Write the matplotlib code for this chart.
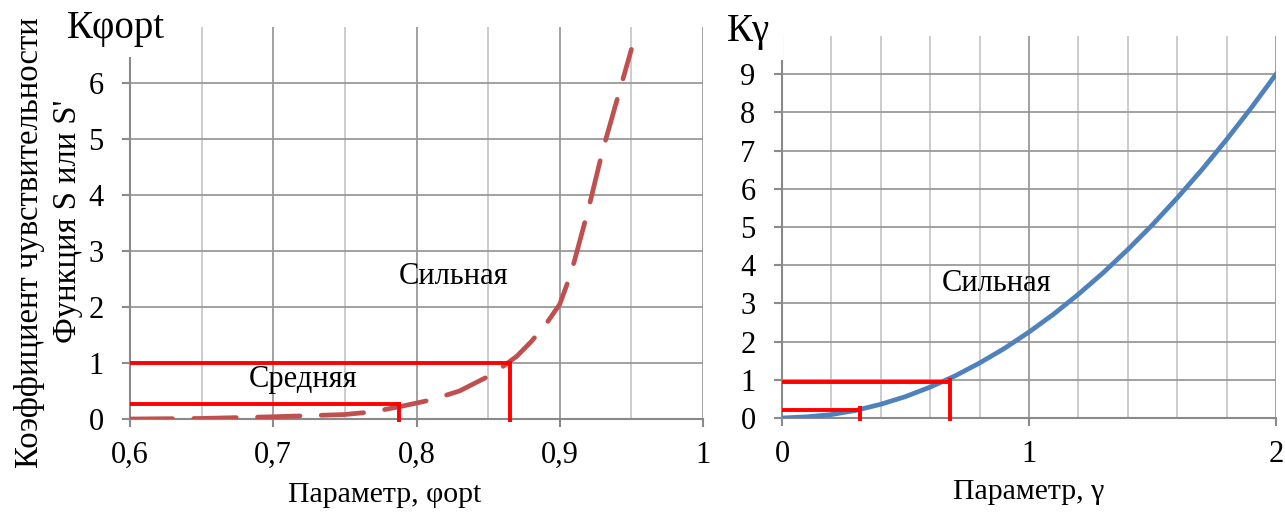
import matplotlib
matplotlib.use("Agg")
import matplotlib.pyplot as plt
from matplotlib.ticker import MultipleLocator
from matplotlib.patches import Rectangle

# ---- data ----
phi = [0.60, 0.65, 0.70, 0.75, 0.77, 0.79, 0.81, 0.83, 0.85, 0.86, 0.87, 0.88, 0.89,
       0.90, 0.905, 0.91, 0.92, 0.93, 0.94, 0.95]
k_phi = [0.00, 0.01, 0.04, 0.08, 0.13, 0.23, 0.34, 0.50, 0.76, 0.93, 1.12, 1.38, 1.68,
         2.05, 2.40, 2.80, 3.75, 4.80, 5.70, 6.60]

gamma = [0.0, 0.1, 0.2, 0.3, 0.4, 0.5, 0.6, 0.7, 0.8, 0.9, 1.0,
         1.1, 1.2, 1.3, 1.4, 1.5, 1.6, 1.7, 1.8, 1.9, 2.0]
k_gamma = [0.00, 0.03, 0.09, 0.20, 0.36, 0.56, 0.81, 1.10, 1.44, 1.82, 2.25,
           2.72, 3.24, 3.80, 4.41, 5.06, 5.76, 6.50, 7.29, 8.12, 9.00]

# threshold marker lines (x-end, level)
left_marks_x = [0.788, 0.865]
left_marks_y = [0.27, 1.0]
right_marks_x = [0.316, 0.68]
right_marks_y = [0.22, 0.95]

left_xticks = [0.6, 0.7, 0.8, 0.9, 1.0]
left_xticklabels = ["0,6", "0,7", "0,8", "0,9", "1"]
left_yticks = [0, 1, 2, 3, 4, 5, 6]
right_xticks = [0, 1, 2]
right_yticks = list(range(10))

plt.rcParams['font.family'] = ['Liberation Serif', 'DejaVu Serif']

W, H = 1285, 518
fig = plt.figure(figsize=(W / 100, H / 100), dpi=100)

def px_axes(x0, x1, ytop, ybot):
    return fig.add_axes([x0 / W, 1 - ybot / H, (x1 - x0) / W, (ybot - ytop) / H])

def fig_rect(x0, x1, ytop, ybot):
    return (x0 / W, 1 - ybot / H), (x1 - x0) / W, (ybot - ytop) / H

axL = px_axes(130, 703, 27, 419)
axR = px_axes(782, 1276, 36, 418)

major_grid = "#9a9a9a"
minor_grid = "#c8c8c8"
spine_c = "#8a8a8a"

def style(ax):
    for s in ["top", "right"]:
        ax.spines[s].set_visible(False)
    for s in ["left", "bottom"]:
        ax.spines[s].set_color(spine_c)
        ax.spines[s].set_linewidth(1.5)
    ax.grid(which="major", color=major_grid, linewidth=1.3)
    ax.grid(which="minor", axis="x", color=minor_grid, linewidth=1.3)
    ax.tick_params(which="major", direction="out", length=6, width=1.5, color=spine_c,
                   labelsize=22)
    ax.tick_params(axis="y", pad=13)
    ax.tick_params(axis="x", pad=10)
    ax.tick_params(which="minor", length=0)
    ax.set_axisbelow(True)

# Left panel
axL.plot(phi, k_phi, color="#C0504D", linewidth=3.4, dashes=(9, 4.5),
         dash_capstyle="round", zorder=3)
for mx, my in zip(left_marks_x, left_marks_y):
    axL.plot([0.6, mx], [my, my], color="#FF0000", linewidth=2.8, zorder=4, solid_capstyle="butt")
    axL.plot([mx, mx], [-0.05, my + 0.04], color="#FF0000", linewidth=2.8, zorder=4,
             solid_capstyle="butt", clip_on=False)
axL.set_xlim(0.6, 1.0)
axL.set_ylim(0, 7)
axL.set_xticks(left_xticks)
axL.set_xticklabels(left_xticklabels)
axL.xaxis.set_minor_locator(MultipleLocator(0.05))
axL.set_yticks(left_yticks)
style(axL)
axL.text(0.826, 2.54, "Сильная", fontsize=22, ha="center", va="center")
axL.text(0.7207, 0.70, "Средняя", fontsize=22, ha="center", va="center")
xy, w, h = fig_rect(55, 177, 4, 57)
axL.add_patch(Rectangle(xy, w, h, transform=fig.transFigure, facecolor="white",
                        edgecolor="none", clip_on=False, zorder=9))
fig.text(67 / W, 1 - 38 / H, "Кφopt", fontsize=28, ha="left", va="baseline", zorder=10)

# Right panel
axR.plot(gamma, k_gamma, color="#4F81BD", linewidth=3.4, zorder=3)
for mx, my in zip(right_marks_x, right_marks_y):
    axR.plot([0, mx], [my, my], color="#FF0000", linewidth=2.8, zorder=4, solid_capstyle="butt")
    axR.plot([mx, mx], [-0.07, my + 0.1], color="#FF0000", linewidth=2.8, zorder=4,
             solid_capstyle="butt", clip_on=False)
axR.set_xlim(0, 2)
axR.set_ylim(0, 10)
axR.set_xticks(right_xticks)
axR.xaxis.set_minor_locator(MultipleLocator(0.2))
axR.set_yticks(right_yticks)
style(axR)
axR.text(0.870, 3.53, "Сильная", fontsize=22, ha="center", va="center")
xy, w, h = fig_rect(705, 783, 4, 60)
axR.add_patch(Rectangle(xy, w, h, transform=fig.transFigure, facecolor="white",
                        edgecolor="none", clip_on=False, zorder=9))
fig.text(727 / W, 1 - 41 / H, "Кγ", fontsize=28, ha="left", va="baseline", zorder=10)

# Axis titles
fig.text(30 / W, 1 - 243 / H, "Коэффициент чувствительности", rotation=90, fontsize=23.5,
         ha="center", va="center")
fig.text(68 / W, 1 - 221 / H, "Функция S или S'", rotation=90, fontsize=23.5,
         ha="center", va="center")
fig.text(385 / W, 1 - 495 / H, "Параметр, φopt", fontsize=21.5, ha="center", va="center")
fig.text(1029 / W, 1 - 492 / H, "Параметр, γ", fontsize=21.5, ha="center", va="center")

fig.savefig("out.png", dpi=100)
